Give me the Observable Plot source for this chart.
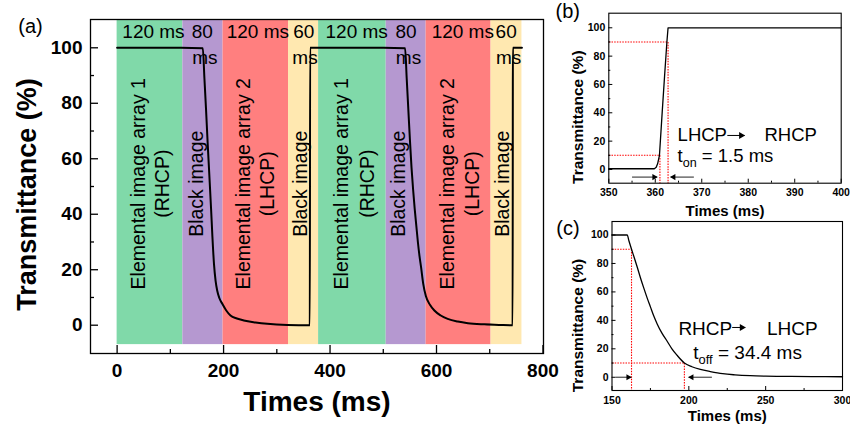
<!DOCTYPE html>
<html><head><meta charset="utf-8">
<script src="https://cdn.jsdelivr.net/npm/d3@7"></script>
<script src="https://cdn.jsdelivr.net/npm/@observablehq/plot@0.6"></script>
<style>
html,body{margin:0;padding:0;background:#fff;}
#fig{position:relative;width:850px;height:426px;overflow:hidden;background:#fff;}
#fig > svg{position:absolute;}
</style></head><body><div id="fig"></div>
<script>
const FONT = '"Liberation Sans", Arial, Helvetica, sans-serif';

// ---------- Panel (a) data ----------
const aTime = [0,40,80,120,161,164,167,170,173,176.5,179,182,185,188,192,197.6,205,213,225,238,260,282,320,362,362.6,400,450,500,541,544,547,550,553,556,559,562,565,568,571,575,580,588,596,608,621,640,659,690,720,743,743.5,760.5];
const aTrans = [100,100,100,100,99.8,89,78,66,55,42,32,22,16,12.5,9.8,7.7,5.3,3.5,2.4,1.7,1.0,0.5,0.1,0,100,100,100,100,99.8,89,78,67,57,49,42,36,30,25,20.9,15,10.5,7.3,5.3,3.5,2.3,1.3,0.7,0.3,0.1,0,100,100];
const phaseStart = [0,123.5,199,322,378.5,505.5,580.5,702.5];
const phaseEnd   = [123.5,199,322,378.5,505.5,580.5,702.5,760.5];
const phaseKind  = ["array1","black1","array2","black2","array1","black1","array2","black2"];
const bandBottom = -7, bandTop = 110.2;
const rotText = ["Elemental image array 1","(RHCP)","Black image","Elemental image array 2","(LHCP)","Black image",
                 "Elemental image array 1","(RHCP)","Black image","Elemental image array 2","(LHCP)","Black image"];
const rotX = [40.8,86.2,149,238.4,283.9,345,421.9,470.6,530,621.2,668.2,724];
const rotY = 51;
const topText = ["120 ms","80","ms","120 ms","60","ms","120 ms","80","ms","120 ms","60","ms"];
const topX = [68.3,160,164.7,264.4,350.7,352.9,450.1,542.7,547.4,649.4,730.9,735.6];
const topY = [105.8,105.8,96.4,105.8,105.8,96.4,105.8,105.8,96.4,105.8,105.8,96.4];
const aXTicks = [0,200,400,600,800], aXMinor = [100,300,500,700];
const aYTicks = [0,20,40,60,80,100], aYMinor = [10,30,50,70,90];

// ---------- Panel (b) data ----------
const bTime = [350,355,359.8,360.2,360.5,360.9,361.5,362.0,362.5,362.75,370,380,390,400];
const bTrans = [0.5,0.5,0.5,1.5,4,10,41,66,90,100,100,100,100,100];
const bT10 = 361.0, bT90 = 362.75;
const bXTicks = [350,360,370,380,390,400], bXMinor = [355,365,375,385,395];
const bAnnText = ["LHCP","RHCP","t_on = 1.5 ms"];
const bAnnX = [364.8,383.5,364.8];
const bAnnY = [24,24,9.5];
const bTextArrow = {x1:375.5, x2:379.2, y:24};
const bMarkArrows = [{x1:355, x2:360.4, y:-5.4},{x1:368.3, x2:363.3, y:-5.4}];

// ---------- Panel (c) data ----------
const cTime = [150,155,159.9,161,162.7,164.5,166.4,168.5,170.6,172.8,175,177.2,179.4,182.5,185.8,189,192.3,197.1,202,207.5,214,222,230,240,250,265,280,300];
const cTrans = [100,100,100,96,90,84,77.5,70,63,56,49.5,43,37.5,31,25.5,20,15.5,10,7.4,5.5,4.0,2.5,1.7,1.1,0.8,0.6,0.45,0.35];
const cT90 = 162.7, cT10 = 197.1;
const cXTicks = [150,200,250,300], cXMinor = [175,225,275];
const cAnnText = ["RHCP","LHCP","t_off = 34.4 ms"];
const cAnnX = [193.2,250.8,202.9];
const cAnnY = [34.2,34.2,17];
const cTextArrow = {x1:228.2, x2:236.7, y:35};
const cMarkArrows = [{x1:152.3, x2:162.5, y:0},{x1:215, x2:199.9, y:0}];

const yTicksSmall = [0,20,40,60,80,100], yMinorSmall = [10,30,50,70,90];

// ---------- helpers ----------
function tickAxes(o) {
  return [
    Plot.tickX(o.xT, {x:d => d, insetTop:o.h - o.maj, stroke:"black", strokeWidth:o.sw}),
    Plot.tickX(o.xM, {x:d => d, insetTop:o.h - o.min, stroke:"black", strokeWidth:o.sw}),
    Plot.tickY(o.yT, {y:d => d, insetRight:o.w - o.maj, stroke:"black", strokeWidth:o.sw}),
    Plot.tickY(o.yM, {y:d => d, insetRight:o.w - o.min, stroke:"black", strokeWidth:o.sw}),
    Plot.axisX({ticks:o.xT, tickSize:0, tickPadding:o.xPad, fontSize:o.fs, fontWeight:"bold", fill:"black"}),
    Plot.axisY({ticks:o.yT, tickSize:0, tickPadding:o.yPad, fontSize:o.fs, fontWeight:"bold", fill:"black"})
  ];
}
function arrowHeads(rows, r) {
  return rows.map(a => Plot.dot([a], {x:"x2", y:"y", symbol:"triangle", r, fill:"black", stroke:"none",
    rotate: a.x2 > a.x1 ? 90 : -90, dx: (a.x2 > a.x1 ? -1 : 1) * r * 1.3}));
}
function links(rows, stroke, sw) {
  return Plot.link(rows, {x1:"x1", x2:"x2", y1:"y", y2:"y", stroke, strokeWidth:sw});
}
function subscripts(svg) {
  d3.select(svg).selectAll("text").each(function() {
    const m = this.textContent.match(/^t_(\w+)(.*)$/);
    if (!m || this.childNodes.length !== 1) return;
    const el = d3.select(this); el.text(null);
    el.append("tspan").text("t");
    el.append("tspan").attr("font-size","0.68em").attr("dy","0.38em").text(m[1]);
    el.append("tspan").attr("dy","-0.26em").text(m[2]);
  });
}
const baseStyle = {background:"transparent", overflow:"visible", fontFamily:FONT, color:"black"};

// ---------- Panel (a) ----------
const regions = phaseStart.map((s,i) => ({x1:s, x2:phaseEnd[i], y1:bandBottom, y2:bandTop, kind:phaseKind[i]}));
const curveA = aTime.map((t,i) => ({t, v:aTrans[i]}));
const rotRows = rotText.map((s,i) => ({x:rotX[i], y:rotY, s}));
const topRows = topText.map((s,i) => ({x:topX[i], y:topY[i], s}));

const A = Plot.plot({
  width:560, height:426, marginLeft:90, marginRight:17, marginTop:19, marginBottom:73,
  style:baseStyle,
  x:{domain:[-50,801], label:null},
  y:{domain:[-10.2,110.2], label:null},
  color:{domain:["array1","black1","array2","black2"], range:["#80d9a9","#b598d0","#ff7f7f","#ffe8b0"]},
  marks:[
    Plot.rect(regions, {x1:"x1", x2:"x2", y1:"y1", y2:"y2", fill:"kind"}),
    Plot.text(rotRows, {x:"x", y:"y", text:"s", rotate:-90, fontSize:19.5, fill:"black", textAnchor:"middle", lineAnchor:"middle"}),
    Plot.text(topRows, {x:"x", y:"y", text:"s", fontSize:19, fill:"black", textAnchor:"middle", lineAnchor:"middle"}),
    Plot.line(curveA, {x:"t", y:"v", stroke:"black", strokeWidth:2, curve:"monotone-x"}),
    ...tickAxes({xT:aXTicks, xM:aXMinor, yT:aYTicks, yM:aYMinor, maj:8, min:4, sw:1.3, xPad:10, yPad:8, fs:19, w:453, h:334}),
    Plot.frame({stroke:"black", strokeWidth:1.3}),
    Plot.text(["Times (ms)"], {frameAnchor:"bottom", dy:49, fontSize:28, fontWeight:"bold", textAnchor:"middle", lineAnchor:"middle"}),
    Plot.text(["Transmittance (%)"], {frameAnchor:"left", rotate:-90, dx:-63, dy:8, fontSize:27, fontWeight:"bold", textAnchor:"middle", lineAnchor:"middle"}),
    Plot.text(["(a)"], {frameAnchor:"top-left", dx:-60, dy:7, fontSize:20, textAnchor:"middle", lineAnchor:"middle"})
  ]
});

// ---------- Panel (b) ----------
const curveB = bTime.map((t,i) => ({t, v:bTrans[i]}));
const bAnn = bAnnText.map((s,i) => ({x:bAnnX[i], y:bAnnY[i], s}));
const bGuides = [
  {x1:350, x2:bT90, y1:90, y2:90}, {x1:bT90, x2:bT90, y1:90, y2:-9.7},
  {x1:350, x2:bT10, y1:10, y2:10}, {x1:bT10, x2:bT10, y1:10, y2:-9.7}
];
const B = Plot.plot({
  width:295, height:220, marginLeft:53.3, marginRight:9.3, marginTop:12.7, marginBottom:37.3,
  style:baseStyle,
  x:{domain:[350,400], label:null},
  y:{domain:[-9.7,110.3], label:null},
  marks:[
    Plot.link(bGuides, {x1:"x1", x2:"x2", y1:"y1", y2:"y2", stroke:"#ff0000", strokeWidth:1.1, strokeDasharray:"1.5,1.2"}),
    Plot.line(curveB, {x:"t", y:"v", stroke:"black", strokeWidth:1.3}),
    links(bMarkArrows, "#555", 1.3),
    ...arrowHeads(bMarkArrows, 2.3),
    links([bTextArrow], "black", 1),
    ...arrowHeads([bTextArrow], 2.6),
    Plot.text(bAnn, {x:"x", y:"y", text:"s", fontSize:18.5, fill:"black", textAnchor:"start", lineAnchor:"middle"}),
    ...tickAxes({xT:bXTicks, xM:bXMinor, yT:yTicksSmall, yM:yMinorSmall, maj:4, min:2, sw:1, xPad:5, yPad:3.5, fs:10.5, w:232.4, h:170}),
    Plot.frame({stroke:"black", strokeWidth:1.1}),
    Plot.text(["Times (ms)"], {frameAnchor:"bottom", dy:28, fontSize:15, fontWeight:"bold", textAnchor:"middle", lineAnchor:"middle"}),
    Plot.text(["Transmittance (%)"], {frameAnchor:"left", rotate:-90, dx:-31, dy:19, fontSize:15.5, fontWeight:"bold", textAnchor:"middle", lineAnchor:"middle"}),
    Plot.text(["(b)"], {frameAnchor:"top-left", dx:-41, dy:-1.5, fontSize:20, textAnchor:"middle", lineAnchor:"middle"})
  ]
});

// ---------- Panel (c) ----------
const curveC = cTime.map((t,i) => ({t, v:cTrans[i]}));
const cAnn = cAnnText.map((s,i) => ({x:cAnnX[i], y:cAnnY[i], s}));
const cGuides = [
  {x1:150, x2:cT90, y1:90, y2:90}, {x1:cT90, x2:cT90, y1:90, y2:-9.3},
  {x1:150, x2:cT10, y1:10, y2:10}, {x1:cT10, x2:cT10, y1:10, y2:-9.3}
];
const C = Plot.plot({
  width:295, height:216, marginLeft:56.5, marginRight:8, marginTop:11, marginBottom:36,
  style:baseStyle,
  x:{domain:[150,300], label:null},
  y:{domain:[-9.3,109.5], label:null},
  marks:[
    Plot.link(cGuides, {x1:"x1", x2:"x2", y1:"y1", y2:"y2", stroke:"#ff0000", strokeWidth:1.1, strokeDasharray:"1.5,1.2"}),
    Plot.line(curveC, {x:"t", y:"v", stroke:"black", strokeWidth:1.3, curve:"monotone-x"}),
    links(cMarkArrows, "#555", 1.3),
    ...arrowHeads(cMarkArrows, 2.3),
    links([cTextArrow], "black", 1),
    ...arrowHeads([cTextArrow], 2.6),
    Plot.text(cAnn, {x:"x", y:"y", text:"s", fontSize:19, fill:"black", textAnchor:"start", lineAnchor:"middle"}),
    ...tickAxes({xT:cXTicks, xM:cXMinor, yT:yTicksSmall, yM:yMinorSmall, maj:4, min:2, sw:1, xPad:6, yPad:3.5, fs:10.5, w:230.5, h:169}),
    Plot.frame({stroke:"black", strokeWidth:1.1}),
    Plot.text(["Times (ms)"], {frameAnchor:"bottom", dy:26, fontSize:15, fontWeight:"bold", textAnchor:"middle", lineAnchor:"middle"}),
    Plot.text(["Transmittance (%)"], {frameAnchor:"left", rotate:-90, dx:-34, dy:19.5, fontSize:15.5, fontWeight:"bold", textAnchor:"middle", lineAnchor:"middle"}),
    Plot.text(["(c)"], {frameAnchor:"top-left", dx:-44, dy:7, fontSize:20, textAnchor:"middle", lineAnchor:"middle"})
  ]
});

const fig = document.getElementById("fig");
A.style.left = "0px"; A.style.top = "0px";
B.style.left = "555px"; B.style.top = "0px";
C.style.left = "555px"; C.style.top = "210px";
fig.append(A, B, C);
subscripts(B); subscripts(C);
</script>
</body></html>
